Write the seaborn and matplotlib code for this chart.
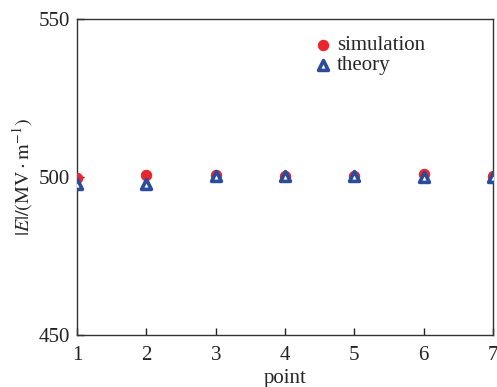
import numpy as np
import pandas as pd
import matplotlib
matplotlib.use("Agg")
import matplotlib.pyplot as plt
import seaborn as sns

# values
points = [1, 2, 3, 4, 5, 6, 7]
simulation = [499.6, 500.6, 500.6, 500.5, 500.4, 501.0, 500.3]
theory = [497.7, 497.7, 500.3, 500.3, 500.3, 500.0, 500.0]

sns.set_style("white")
plt.rcParams['font.family'] = ['Liberation Serif', 'DejaVu Serif']
plt.rcParams['mathtext.fontset'] = 'stix'

fig = plt.figure(figsize=(4.97, 3.87), dpi=100)
ax = fig.add_axes([0.155, 0.134, 0.837, 0.8165])

df_sim = pd.DataFrame({'point': points, 'E': simulation})
df_th = pd.DataFrame({'point': points, 'E': theory})

sns.scatterplot(data=df_sim, x='point', y='E', ax=ax, marker='o', s=55,
                color='#e8262d', edgecolor='#e8262d', linewidth=0.8,
                label='simulation', zorder=3)
sns.scatterplot(data=df_th, x='point', y='E', ax=ax, marker='^', s=50,
                facecolor='white', edgecolor='#2b4c9b', linewidth=2.6,
                label='theory', zorder=4)

ax.set_xlim(1, 7)
ax.set_ylim(450, 550)
ax.set_xticks(points)
ax.set_yticks([450, 500, 550])
ax.tick_params(axis='both', direction='in', length=5, width=1, labelsize=15,
               colors='#222222', top=False, right=False, bottom=True, left=True)
ax.tick_params(axis='x', pad=8)
ax.tick_params(axis='y', pad=5)
for s in ax.spines.values():
    s.set_color('#333333')
    s.set_linewidth(1.0)

ax.set_xlabel('point', fontsize=15, labelpad=3)
ax.set_ylabel(r'$|E|/(\mathrm{MV\cdot m^{-1}})$', fontsize=14.5, labelpad=3)

ax.legend(loc='upper left', bbox_to_anchor=(0.52, 1.0), frameon=False,
          fontsize=15, handletextpad=0.1, labelspacing=0.0, borderpad=0.3,
          handlelength=1.2)

fig.savefig('out.png', dpi=100)
